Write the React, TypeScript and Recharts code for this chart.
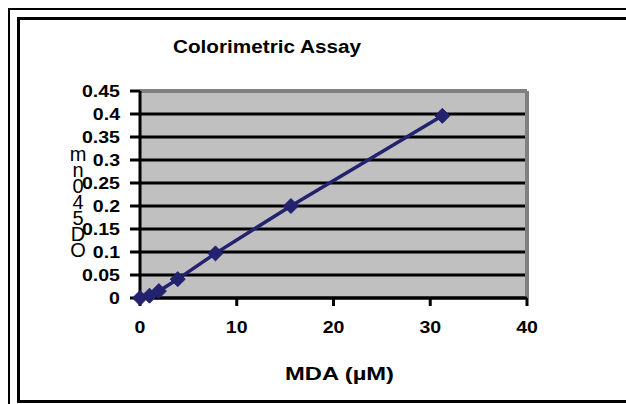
import React from "react";
import { LineChart, Line, XAxis, YAxis, CartesianGrid, ReferenceLine } from "recharts";

const mdaValues = [0, 0.98, 1.95, 3.9, 7.8, 15.6, 31.25];
const odValues = [0, 0.005, 0.015, 0.041, 0.097, 0.2, 0.396];
const xTicks = [0, 10, 20, 30, 40];
const yTicks = [0, 0.05, 0.1, 0.15, 0.2, 0.25, 0.3, 0.35, 0.4, 0.45];
const yTickLabels = ["0", "0.05", "0.1", "0.15", "0.2", "0.25", "0.3", "0.35", "0.4", "0.45"];
const titleText = "Colorimetric Assay";
const xLabelText = "MDA (µM)";
const yLabelText = "OD 540 nm";

const data = mdaValues.map((x, i) => ({ x, od: odValues[i] }));

const FONT = "'Liberation Sans', Arial, sans-serif";
const SX = 1.15;
const LINE_COLOR = "#22226e";

const YTick = (props: any) => {
  const { x, y, index } = props;
  return (
    <text
      x={x / SX}
      y={y + 6}
      transform={`scale(${SX},1)`}
      textAnchor="end"
      fontFamily={FONT}
      fontWeight="bold"
      fontSize={17}
      fill="#000"
    >
      {yTickLabels[index]}
    </text>
  );
};

const XTick = (props: any) => {
  const { x, y, payload } = props;
  return (
    <text
      x={x / SX}
      y={y + 17}
      transform={`scale(${SX},1)`}
      textAnchor="middle"
      fontFamily={FONT}
      fontWeight="bold"
      fontSize={17}
      fill="#000"
    >
      {payload.value}
    </text>
  );
};

const Diamond = (props: any) => {
  const { cx, cy } = props;
  if (cx == null || cy == null) return null;
  const r = 7.5;
  return (
    <polygon
      points={`${cx},${cy - r} ${cx + r},${cy} ${cx},${cy + r} ${cx - r},${cy}`}
      fill={LINE_COLOR}
      stroke={LINE_COLOR}
    />
  );
};

const YLabel = (props: any) => {
  const vb = props.viewBox || {};
  const cx = vb.x - 2;
  const base = vb.y + vb.height * 0.8;
  const chars = yLabelText.replace(/ /g, "").split("");
  return (
    <g>
      {chars.map((c, i) => (
        <text
          key={i}
          x={cx}
          y={base - i * 16}
          textAnchor="middle"
          fontFamily={FONT}
          fontSize={20}
          fill="#000"
        >
          {c}
        </text>
      ))}
    </g>
  );
};

const XLabel = (props: any) => {
  const vb = props.viewBox || {};
  const cx = vb.x + vb.width / 2 + 6;
  return (
    <text
      x={cx / 1.25}
      y={vb.y + 82}
      transform="scale(1.25,1)"
      textAnchor="middle"
      fontFamily={FONT}
      fontWeight="bold"
      fontSize={19}
      fill="#000"
    >
      {xLabelText}
    </text>
  );
};

export default function App() {
  return (
    <div
      style={{
        position: "absolute",
        left: 0,
        top: 0,
        width: 626,
        height: 404,
        overflow: "hidden",
        background: "#fff",
      }}
    >
      <div
        style={{
          position: "absolute",
          left: 8,
          top: 8,
          width: 1000,
          height: 1000,
          border: "2px solid #000",
          boxSizing: "border-box",
        }}
      />
      <div
        style={{
          position: "absolute",
          left: 17,
          top: 17,
          width: 1000,
          height: 386,
          border: "3px solid #000",
          boxSizing: "border-box",
        }}
      />
      <svg
        width={626}
        height={404}
        style={{ position: "absolute", left: 0, top: 0 }}
      >
        <text
          x={267 / 1.12}
          y={53}
          transform="scale(1.12,1)"
          textAnchor="middle"
          fontFamily={FONT}
          fontWeight="bold"
          fontSize={18.5}
          fill="#000"
        >
          {titleText}
        </text>
      </svg>
      <div style={{ position: "absolute", left: 0, top: 0 }}>
        <LineChart
          width={626}
          height={404}
          data={data}
          margin={{ top: 91, right: 99, bottom: 66, left: 80 }}
        >
          <CartesianGrid
            fill="#c0c0c0"
            vertical={false}
            stroke="#000"
            strokeWidth={3}
          />
          <XAxis
            dataKey="x"
            type="number"
            domain={[0, 40]}
            ticks={xTicks}
            height={40}
            tickSize={8}
            tickMargin={10}
            axisLine={{ stroke: "#000", strokeWidth: 3 }}
            tickLine={{ stroke: "#000", strokeWidth: 3 }}
            tick={<XTick />}
            interval={0}
            label={<XLabel />}
          />
          <YAxis
            type="number"
            domain={[0, 0.45]}
            ticks={yTicks}
            width={60}
            tickSize={10}
            tickMargin={10}
            axisLine={{ stroke: "#000", strokeWidth: 3 }}
            tickLine={{ stroke: "#000", strokeWidth: 3 }}
            tick={<YTick />}
            interval={0}
            label={<YLabel />}
          />
          <ReferenceLine y={0.45} stroke="#808080" strokeWidth={4} />
          <ReferenceLine x={40} stroke="#808080" strokeWidth={4} />
          <Line
            dataKey="od"
            type="linear"
            stroke={LINE_COLOR}
            strokeWidth={3.5}
            dot={<Diamond />}
            activeDot={false}
            isAnimationActive={false}
          />
        </LineChart>
      </div>
    </div>
  );
}
